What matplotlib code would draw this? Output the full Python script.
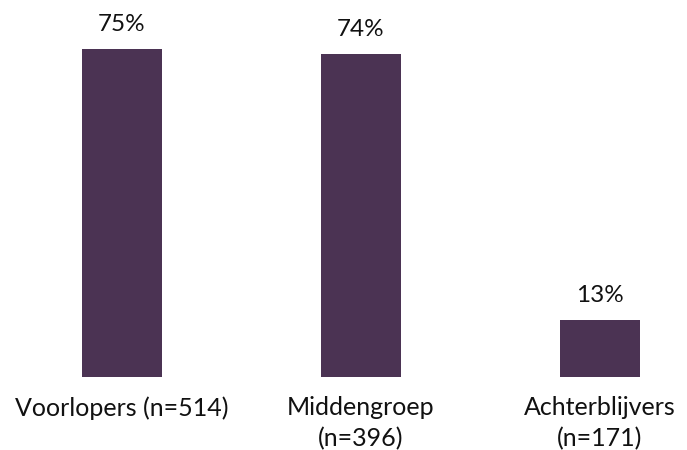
import matplotlib.pyplot as plt

categories = ["Voorlopers (n=514)", "Middengroep\n(n=396)", "Achterblijvers\n(n=171)"]
values = [75, 74, 13]
labels = ["75%", "74%", "13%"]

plt.rcParams["font.family"] = ["Lato", "DejaVu Sans"]

fig = plt.figure(figsize=(6.87, 4.5), dpi=100)
ax = fig.add_axes([0, 73 / 450, 1, 377 / 450])

x = range(len(values))
bars = ax.bar(x, values, width=80 / 238.75, color="#4b3353")

for b, lab in zip(bars, labels):
    ax.annotate(lab, (b.get_x() + b.get_width() / 2, b.get_height()),
                xytext=(0, 10), textcoords="offset points",
                ha="center", va="bottom", fontsize=17.5, color="#111111")

ax.set_xlim(-122 / 238.75, (687 - 122) / 238.75)
ax.set_ylim(0, 377 / 4.37)
ax.set_xticks(list(x))
ax.set_xticklabels(categories, fontsize=18, color="#111111", linespacing=1.4)
ax.tick_params(axis="x", length=0, pad=14)
ax.set_yticks([])
for s in ax.spines.values():
    s.set_visible(False)

fig.savefig("out.png", dpi=100)
